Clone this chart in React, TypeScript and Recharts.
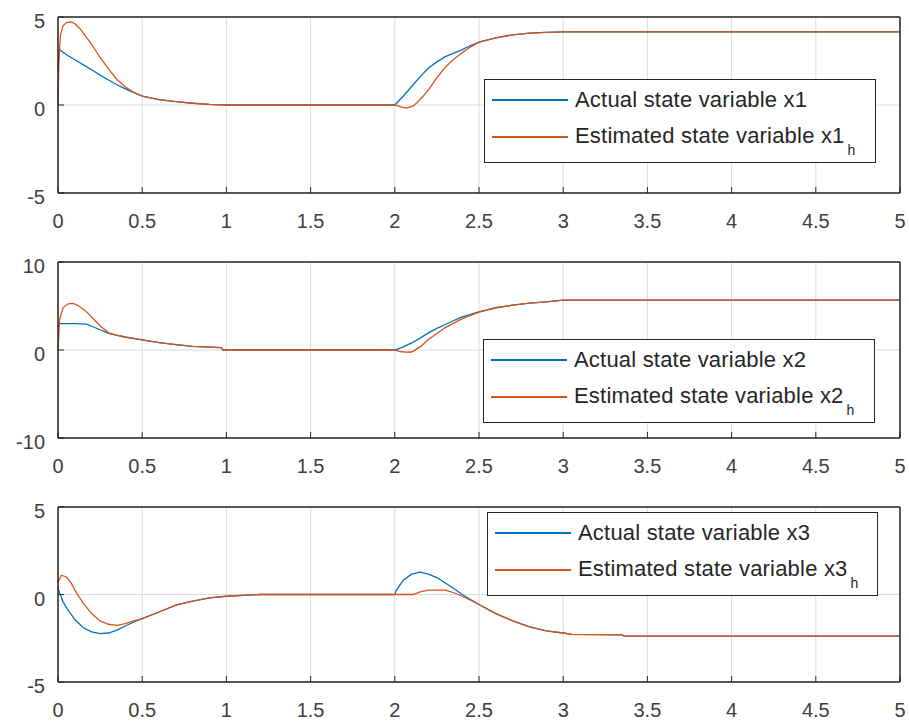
import React from "react";
import { LineChart, Line, XAxis, YAxis, CartesianGrid, Legend } from "recharts";

const FONT = "'Liberation Sans', Arial, Helvetica, sans-serif";
const BLUE = "#0072BD";
const ORANGE = "#D95319";
const AXIS = "#262626";

const xTicks = [0, 0.5, 1, 1.5, 2, 2.5, 3, 3.5, 4, 4.5, 5];

// state x1
const x1Time = [0, 0.008, 0.03, 0.06, 0.1, 0.15, 0.2, 0.25, 0.3, 0.35, 0.4, 0.45, 0.5, 0.6, 0.7, 0.8, 0.9, 1.0, 2.0, 2.05, 2.1, 2.15, 2.2, 2.25, 2.3, 2.35, 2.4, 2.45, 2.5, 2.6, 2.7, 2.8, 2.9, 3.0, 5.0];
const x1Actual = [2.0, 3.15, 3.0, 2.8, 2.57, 2.28, 2.0, 1.7, 1.42, 1.15, 0.92, 0.7, 0.5, 0.3, 0.19, 0.1, 0.03, 0, 0, 0.5, 1.05, 1.6, 2.1, 2.45, 2.75, 2.95, 3.15, 3.38, 3.57, 3.82, 3.99, 4.08, 4.13, 4.15, 4.15];
const x1hTime = [0, 0.005, 0.015, 0.03, 0.05, 0.08, 0.1, 0.13, 0.16, 0.2, 0.25, 0.3, 0.35, 0.4, 0.45, 0.5, 0.6, 0.7, 0.8, 0.9, 1.0, 2.0, 2.04, 2.07, 2.11, 2.15, 2.2, 2.25, 2.3, 2.35, 2.4, 2.45, 2.5, 2.6, 2.7, 2.8, 2.9, 3.0, 5.0];
const x1hEstimated = [0, 2.5, 4.0, 4.5, 4.68, 4.72, 4.62, 4.35, 3.95, 3.45, 2.7, 2.05, 1.45, 1.02, 0.72, 0.5, 0.3, 0.19, 0.1, 0.03, 0, 0, -0.12, -0.18, -0.05, 0.3, 0.86, 1.55, 2.15, 2.6, 2.97, 3.3, 3.57, 3.82, 3.99, 4.08, 4.13, 4.15, 4.15];

// state x2
const x2Time = [0, 0.01, 0.1, 0.17, 0.2, 0.25, 0.3, 0.35, 0.4, 0.5, 0.6, 0.7, 0.8, 0.9, 0.97, 0.98, 2.0, 2.05, 2.1, 2.15, 2.2, 2.25, 2.3, 2.35, 2.4, 2.5, 2.6, 2.7, 2.8, 2.9, 3.0, 5.0];
const x2Actual = [2.6, 3.0, 3.0, 2.95, 2.7, 2.3, 1.9, 1.65, 1.45, 1.15, 0.85, 0.6, 0.42, 0.32, 0.27, 0, 0, 0.35, 0.8, 1.35, 1.94, 2.45, 2.9, 3.35, 3.76, 4.33, 4.8, 5.1, 5.32, 5.47, 5.66, 5.66];
const x2hTime = [0, 0.01, 0.03, 0.06, 0.09, 0.12, 0.16, 0.2, 0.25, 0.3, 0.35, 0.4, 0.5, 0.6, 0.7, 0.8, 0.9, 0.97, 0.98, 2.0, 2.04, 2.07, 2.1, 2.15, 2.2, 2.3, 2.4, 2.5, 2.6, 2.7, 2.8, 2.9, 3.0, 5.0];
const x2hEstimated = [0, 3.5, 4.8, 5.25, 5.3, 5.05, 4.5, 3.75, 2.75, 1.95, 1.7, 1.48, 1.15, 0.85, 0.6, 0.42, 0.32, 0.27, 0, 0, -0.2, -0.25, -0.23, 0.35, 1.2, 2.55, 3.57, 4.3, 4.8, 5.1, 5.32, 5.47, 5.66, 5.66];

// state x3
const x3Time = [0, 0.03, 0.06, 0.1, 0.15, 0.2, 0.25, 0.3, 0.35, 0.4, 0.45, 0.5, 0.6, 0.7, 0.8, 0.9, 1.0, 1.2, 2.0, 2.01, 2.05, 2.1, 2.15, 2.2, 2.25, 2.3, 2.35, 2.4, 2.45, 2.5, 2.6, 2.7, 2.8, 2.9, 3.0, 3.05, 3.35, 3.36, 5.0];
const x3Actual = [0.35, -0.42, -0.9, -1.43, -1.9, -2.14, -2.23, -2.2, -2.04, -1.8, -1.57, -1.38, -1.0, -0.61, -0.38, -0.19, -0.1, 0, 0, 0.25, 0.82, 1.16, 1.28, 1.16, 0.97, 0.66, 0.34, 0, -0.29, -0.57, -1.09, -1.51, -1.85, -2.08, -2.2, -2.28, -2.3, -2.38, -2.38];
const x3hTime = [0, 0.02, 0.05, 0.08, 0.1, 0.15, 0.2, 0.25, 0.3, 0.35, 0.4, 0.45, 0.5, 0.6, 0.7, 0.8, 0.9, 1.0, 1.2, 2.0, 2.11, 2.15, 2.2, 2.3, 2.35, 2.4, 2.45, 2.5, 2.6, 2.7, 2.8, 2.9, 3.0, 3.05, 3.35, 3.36, 5.0];
const x3hEstimated = [0.7, 1.1, 1.0, 0.63, 0.25, -0.51, -1.09, -1.51, -1.7, -1.76, -1.66, -1.51, -1.38, -1.0, -0.61, -0.38, -0.19, -0.1, 0, 0, 0, 0.15, 0.25, 0.25, 0.1, -0.1, -0.33, -0.57, -1.09, -1.51, -1.85, -2.08, -2.2, -2.28, -2.3, -2.38, -2.38];

const toPoints = (t: number[], v: number[]) => t.map((time, i) => ({ t: time, v: v[i] }));

const XTick = ({ x, y, payload }: any) => (
  <text x={x} y={y} dy="0.35em" textAnchor="middle" fill="#404040" fontSize={20} fontFamily={FONT}>
    {payload.value}
  </text>
);

const YTick = ({ x, y, payload }: any) => (
  <text x={x} y={y + 4} dy="0.35em" textAnchor="end" fill="#404040" fontSize={20} fontFamily={FONT}>
    {payload.value}
  </text>
);

const legendColors = [BLUE, ORANGE];

const LegendBox = ({ payload }: any) => (
  <div
    style={{
      position: "relative",
      width: "100%",
      height: "100%",
      boxSizing: "border-box",
      border: `1.5px solid ${AXIS}`,
      background: "#fff",
      fontFamily: FONT,
    }}
  >
    {(payload || []).map((entry: any, i: number) => (
      <div
        key={i}
        style={{
          position: "absolute",
          left: 7,
          top: (i === 0 ? 20 : 57) - 12,
          height: 24,
          display: "flex",
          alignItems: "center",
          whiteSpace: "nowrap",
        }}
      >
        <div style={{ width: 76, height: 2, background: legendColors[i] }} />
        <span style={{ marginLeft: 7, fontSize: 22, letterSpacing: 0.2, lineHeight: "24px", color: AXIS }}>
          {entry.value}
          {i === 1 && (
            <span style={{ fontSize: 14, lineHeight: 0, verticalAlign: -12, marginLeft: 3 }}>h</span>
          )}
        </span>
      </div>
    ))}
  </div>
);

type PanelProps = {
  top: number;
  height: number;
  marginTop: number;
  marginBottom: number;
  actual: { t: number; v: number }[];
  estimated: { t: number; v: number }[];
  actualName: string;
  estimatedName: string;
  yDomain: [number, number];
  yTicks: number[];
  legendLeft: number;
  legendTop: number;
  legendWidth: number;
};

const Panel = (p: PanelProps) => (
  <div style={{ position: "absolute", left: 0, top: p.top }}>
    <LineChart
      width={909}
      height={p.height}
      margin={{ top: p.marginTop - 1, right: 8, bottom: p.marginBottom - 30, left: 0 }}
    >
      <CartesianGrid stroke="#dcdcdc" strokeWidth={1} />
      <XAxis
        dataKey="t"
        type="number"
        domain={[0, 5]}
        ticks={xTicks}
        interval={0}
        height={30}
        tickSize={-6}
        tickMargin={34}
        tick={<XTick />}
        axisLine={{ stroke: AXIS, strokeWidth: 1.5 }}
        tickLine={{ stroke: AXIS }}
      />
      <XAxis
        xAxisId="top"
        orientation="top"
        dataKey="t"
        type="number"
        domain={[0, 5]}
        ticks={xTicks}
        interval={0}
        height={1}
        tickSize={-6}
        tick={false}
        axisLine={{ stroke: AXIS, strokeWidth: 1.5 }}
        tickLine={{ stroke: AXIS }}
      />
      <YAxis
        type="number"
        domain={p.yDomain}
        ticks={p.yTicks}
        interval={0}
        width={58}
        tickSize={-6}
        tickMargin={19}
        tick={<YTick />}
        axisLine={{ stroke: AXIS, strokeWidth: 1.5 }}
        tickLine={{ stroke: AXIS }}
      />
      <YAxis
        yAxisId="r"
        orientation="right"
        type="number"
        domain={p.yDomain}
        ticks={p.yTicks}
        interval={0}
        width={1}
        tickSize={-6}
        tick={false}
        axisLine={{ stroke: AXIS, strokeWidth: 1.5 }}
        tickLine={{ stroke: AXIS }}
      />
      <Line
        data={p.actual}
        dataKey="v"
        name={p.actualName}
        type="linear"
        stroke={BLUE}
        strokeWidth={1.3}
        dot={false}
        isAnimationActive={false}
      />
      <Line
        data={p.estimated}
        dataKey="v"
        name={p.estimatedName}
        type="linear"
        stroke={ORANGE}
        strokeWidth={1.3}
        dot={false}
        isAnimationActive={false}
      />
      <Legend
        layout="vertical"
        align="center"
        verticalAlign="middle"
        content={<LegendBox />}
        wrapperStyle={{
          position: "absolute",
          left: p.legendLeft,
          top: p.legendTop,
          width: p.legendWidth,
          height: 84,
        }}
      />
    </LineChart>
  </div>
);

export default function App() {
  return (
    <div style={{ position: "absolute", left: 0, top: 0, width: 909, height: 725, background: "#fff" }}>
      <Panel
        top={0}
        height={240}
        marginTop={17}
        marginBottom={47}
        actual={toPoints(x1Time, x1Actual)}
        estimated={toPoints(x1hTime, x1hEstimated)}
        actualName="Actual state variable x1"
        estimatedName="Estimated state variable x1"
        yDomain={[-5, 5]}
        yTicks={[-5, 0, 5]}
        legendLeft={484}
        legendTop={79}
        legendWidth={392}
      />
      <Panel
        top={240}
        height={240}
        marginTop={22}
        marginBottom={42}
        actual={toPoints(x2Time, x2Actual)}
        estimated={toPoints(x2hTime, x2hEstimated)}
        actualName="Actual state variable x2"
        estimatedName="Estimated state variable x2"
        yDomain={[-10, 10]}
        yTicks={[-10, 0, 10]}
        legendLeft={483}
        legendTop={99}
        legendWidth={392}
      />
      <Panel
        top={480}
        height={245}
        marginTop={27}
        marginBottom={43}
        actual={toPoints(x3Time, x3Actual)}
        estimated={toPoints(x3hTime, x3hEstimated)}
        actualName="Actual state variable x3"
        estimatedName="Estimated state variable x3"
        yDomain={[-5, 5]}
        yTicks={[-5, 0, 5]}
        legendLeft={487}
        legendTop={32}
        legendWidth={391}
      />
    </div>
  );
}
